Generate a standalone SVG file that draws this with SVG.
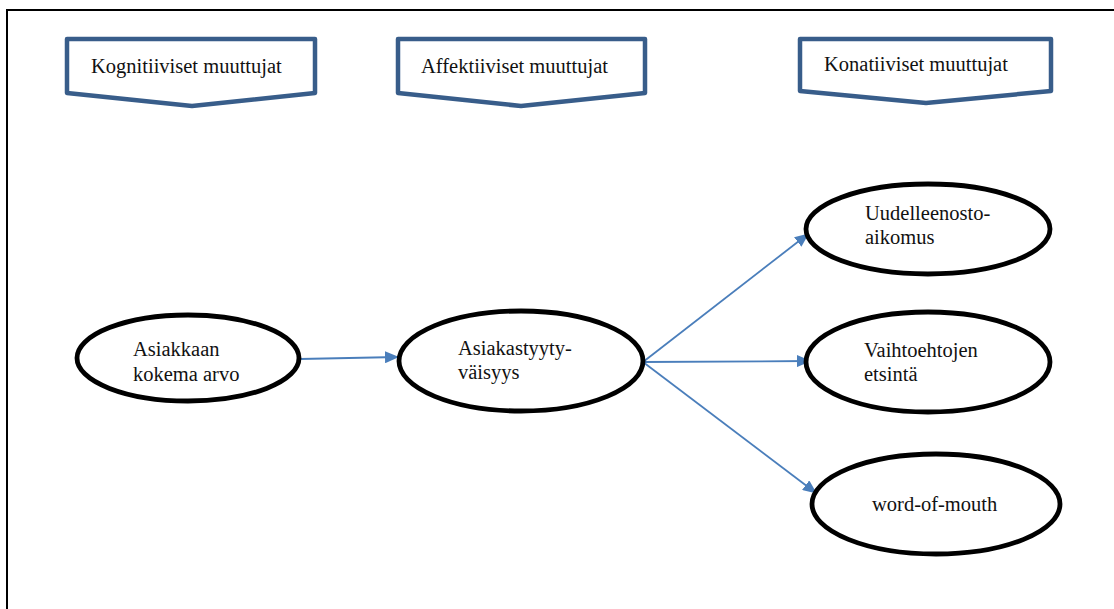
<svg xmlns="http://www.w3.org/2000/svg" width="1114" height="609" viewBox="0 0 1114 609">
<style>
.frame{fill:none;stroke:#000;stroke-width:2}
.chev{fill:#fff;stroke:#385D8A;stroke-width:4.5;stroke-linejoin:round}
.ell{fill:#fff;stroke:#000;stroke-width:4.8}
.t{font-family:'Liberation Serif',serif;font-size:20.5px;fill:#111}
.conn{fill:none;stroke:#4A7EBB;stroke-width:1.8}
</style>
<defs>
<marker id="ah" markerUnits="userSpaceOnUse" markerWidth="14" markerHeight="12" refX="13" refY="6" orient="auto">
<path d="M0,0 L14,6 L0,12 Z" fill="#4A7EBB"/>
</marker>
</defs>
<rect width="1114" height="609" fill="#fff"/>
<path class="frame" d="M7,620 L7,10 L1120,10"/>
<g id="chevron-kognitiiviset">
<path class="chev" d="M67,39 L315,39 L315,93 L192,106 L67,93 Z"/>
<text class="t" x="91" y="73">Kognitiiviset muuttujat</text>
</g>
<g id="chevron-affektiiviset">
<path class="chev" d="M398,39 L645,39 L645,93 L521,106 L398,93 Z"/>
<text class="t" x="421" y="73">Affektiiviset muuttujat</text>
</g>
<g id="chevron-konatiiviset">
<path class="chev" d="M800,39 L1051,39 L1051,91 L926,103 L800,91 Z"/>
<text class="t" x="824" y="71">Konatiiviset muuttujat</text>
</g>
<g id="connectors">
<line class="conn" x1="300" y1="359" x2="398" y2="357" marker-end="url(#ah)"/>
<line class="conn" x1="643" y1="362" x2="808" y2="234" marker-end="url(#ah)"/>
<line class="conn" x1="643" y1="362" x2="810" y2="361" marker-end="url(#ah)"/>
<line class="conn" x1="643" y1="362" x2="816" y2="493" marker-end="url(#ah)"/>
</g>
<g id="node-asiakkaan">
<ellipse class="ell" cx="188" cy="358" rx="111" ry="43"/>
<text class="t" x="133" y="356">Asiakkaan</text>
<text class="t" x="133" y="381">kokema arvo</text>
</g>
<g id="node-asiakastyytyvaisyys">
<ellipse class="ell" cx="521" cy="361" rx="122" ry="50"/>
<text class="t" x="458" y="355">Asiakastyyty-</text>
<text class="t" x="458" y="379">väisyys</text>
</g>
<g id="node-uudelleenosto">
<ellipse class="ell" cx="928" cy="229" rx="122" ry="45"/>
<text class="t" x="865" y="220">Uudelleenosto-</text>
<text class="t" x="865" y="244">aikomus</text>
</g>
<g id="node-vaihtoehtojen">
<ellipse class="ell" cx="928" cy="362" rx="122" ry="50"/>
<text class="t" x="864" y="357">Vaihtoehtojen</text>
<text class="t" x="864" y="381">etsintä</text>
</g>
<g id="node-word-of-mouth">
<ellipse class="ell" cx="936" cy="504" rx="124" ry="50"/>
<text class="t" x="872" y="511">word-of-mouth</text>
</g>
</svg>
